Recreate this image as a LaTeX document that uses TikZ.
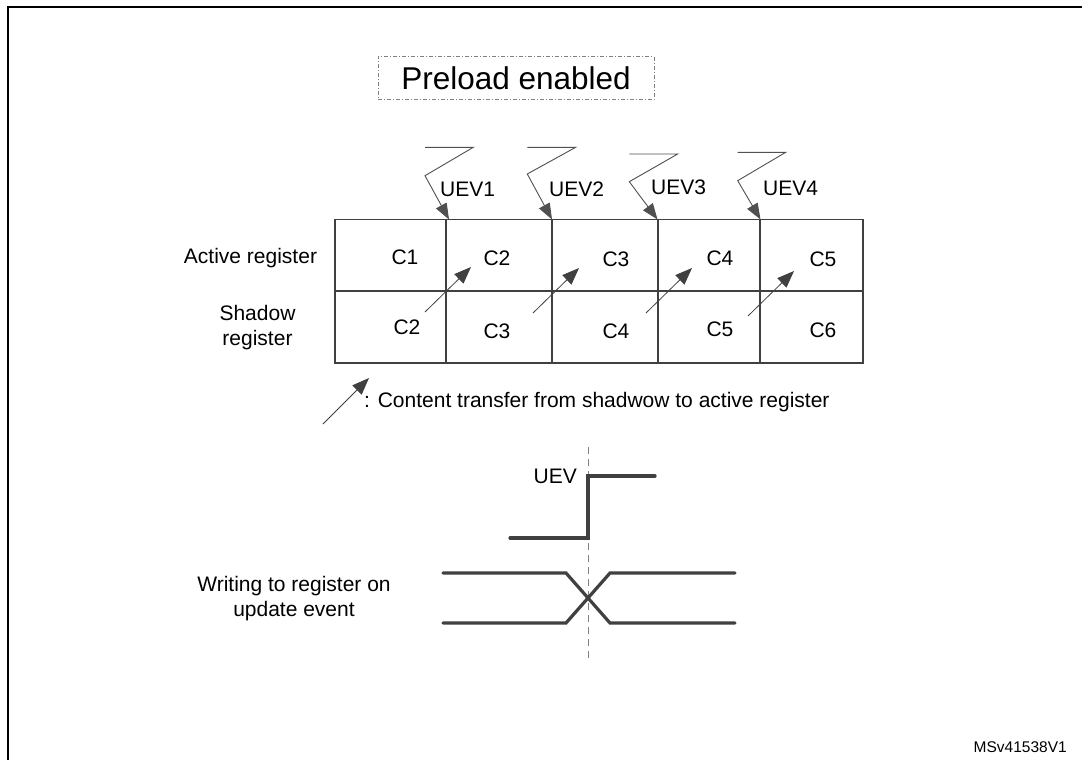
\documentclass[tikz,border=0pt]{standalone}
\usepackage{fontspec}
\setmainfont{Liberation Sans}
\usetikzlibrary{arrows.meta}
\definecolor{ln}{HTML}{404040}
\definecolor{bl}{HTML}{505050}
\begin{document}
\begin{tikzpicture}[x=1pt,y=-1pt,
  grid/.style={draw=ln, line width=1.8pt},
  lbl/.style={font=\fontsize{21}{25}\selectfont, inner sep=0pt, text=black},
  xfer/.style={draw=ln, line width=0.8pt, -{Triangle[length=17pt,width=13pt]}},
  bolt/.style={draw=bl, line width=0.9pt, -{Triangle[length=16pt,width=12pt]}},
  wave/.style={draw=ln, line width=3.2pt, line cap=round}]
\useasboundingbox (0,0) rectangle (1082,760);
\fill[white] (0,0) rectangle (1082,760);
% frame
\draw[line width=2.5pt] (1090,7) -- (8,7) -- (8,770);
% preload box
\node[draw=gray, dash pattern=on 4pt off 2pt on 1pt off 2pt, line width=0.9pt,
  minimum width=276pt, minimum height=43pt, inner sep=0pt,
  font=\fontsize{31.5}{36}\selectfont] (pre) at (516,78) {Preload enabled};
% table grid
\coordinate (tl) at (335,219.5);
\coordinate (br) at (863,363);
\draw[grid] (tl) rectangle (br);
\draw[grid] (335,291) -- (863,291);
\foreach \x in {446,552,658,760} \draw[grid] (\x,219.5) -- (\x,363);
% cell labels
\node[lbl] (a1) at (405,257) {C1};
\node[lbl] (a2) at (497,258) {C2};
\node[lbl] (a3) at (616,259) {C3};
\node[lbl] (a4) at (720,258) {C4};
\node[lbl] (a5) at (823,259) {C5};
\node[lbl] (s1) at (407,327) {C2};
\node[lbl] (s2) at (497,331) {C3};
\node[lbl] (s3) at (616,331) {C4};
\node[lbl] (s4) at (720,329) {C5};
\node[lbl] (s5) at (823,330) {C6};
% row labels
\node[lbl] (act) at (250.5,258) {Active register};
\node[lbl, align=center] (sha) at (257.5,328) {Shadow\\register};
% transfer arrows
\coordinate (t1a) at (425,312); \coordinate (t1b) at (471,267);
\coordinate (t2a) at (533,313); \coordinate (t2b) at (579,268);
\coordinate (t3a) at (646,313); \coordinate (t3b) at (692,268);
\coordinate (t4a) at (748,316); \coordinate (t4b) at (794,271);
\draw[xfer] (t1a) -- (t1b);
\draw[xfer] (t2a) -- (t2b);
\draw[xfer] (t3a) -- (t3b);
\draw[xfer] (t4a) -- (t4b);
% legend
\coordinate (la) at (323,424); \coordinate (lb) at (369,378);
\draw[xfer] (la) -- (lb);
\node[lbl, anchor=west] (leg) at (364,402) {: Content transfer from shadwow to active register};
% UEV bolts
\draw[bolt] (425,147.3) -- (473.3,147.3) -- (425,175.7) -- (449,219.5);
\draw[bolt] (527.3,147.3) -- (575.7,147.3) -- (527.3,174) -- (552,219.5);
\draw[bolt] (629.3,154) -- (677.7,154) -- (629.3,181.7) -- (657.5,219.5);
\draw[bolt] (737.7,152.3) -- (785.7,152.3) -- (737.7,180.7) -- (760.5,219.5);
\node[lbl, anchor=west] (u1) at (440,189) {UEV1};
\node[lbl, anchor=west] (u2) at (549,189) {UEV2};
\node[lbl, anchor=west] (u3) at (651,187) {UEV3};
\node[lbl, anchor=west] (u4) at (763,188) {UEV4};
% timing
\draw[gray, line width=0.9pt, dash pattern=on 7pt off 5pt] (588,447) -- (588,662);
\draw[wave] (510,538) -- (588,538) -- (588,476) -- (655,476);
\node[lbl, anchor=east] (uev) at (577,476) {UEV};
\draw[wave] (443,573) -- (566,573) -- (610,623) -- (735,623);
\draw[wave] (443,623) -- (566,623) -- (610,573) -- (735,573);
\node[lbl, align=center] (wr) at (294,599) {Writing to register on\\update event};
\node[font=\fontsize{15.5}{18}\selectfont, anchor=east, inner sep=0pt] (ms) at (1067,747) {MSv41538V1};
\end{tikzpicture}
\end{document}
